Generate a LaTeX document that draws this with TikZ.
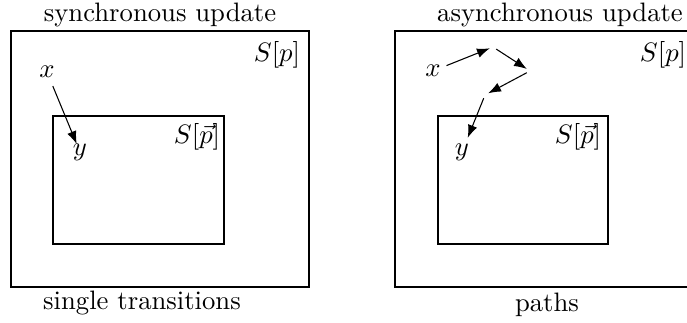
\documentclass[tikz,border=0pt]{standalone}
\usetikzlibrary{arrows.meta}
\begin{document}
\begin{tikzpicture}[>=Latex,x=0.375pt,y=-0.375pt,
  statelbl/.style={inner sep=2pt},
  waypoint/.style={inner sep=1pt}]

% 1 unit = 1 px of the 687x323 frame, y pointing down
\useasboundingbox (0,0) rectangle (687,323);
\clip (0,0) rectangle (687,323);

% ---- SYNCHRONOUS UPDATE ----
\draw (11,31) rectangle (309,287);   % S[p]
\draw (53,116) rectangle (224,244);  % S[vec p]
\node (synctitle) at (160,15) {synchronous update};
\node (syncfoot) at (142,303) {single transitions};
\node (syncSp) at (277,55) {$S[p]$};
\node (syncSvp) at (197,137) {$S[\vec{p}]$};

\node[statelbl] (syncx) at (47,72) {$x$};
\node[statelbl] (syncy) at (80,152) {$y$};
\draw[->,shorten <=1pt,shorten >=-2.5pt] (syncx) -- (syncy);

% ---- ASYNCHRONOUS UPDATE ----
\draw (395,31) rectangle (693,287);   % S[p]
\draw (438,116) rectangle (608,244);  % S[vec p]
\node (asynctitle) at (560,15) {asynchronous update};
\node (asyncfoot) at (547,305) {paths};
\node (asyncSp) at (663,55) {$S[p]$};
\node (asyncSvp) at (578,137) {$S[\vec{p}]$};

\node[statelbl] (asyncx) at (433,71) {$x$};
\node[statelbl] (asyncy) at (462,152) {$y$};
\node[waypoint] (a1) at (493,47) {};
\node[waypoint] (a2) at (530,71) {};
\node[waypoint] (a3) at (485,95) {};

% path of single steps
\draw[->] (asyncx) -- (a1);
\draw[->] (a1) -- (a2);
\draw[->] (a2) -- (a3);
\draw[->] (a3) -- (asyncy);

\end{tikzpicture}
\end{document}
